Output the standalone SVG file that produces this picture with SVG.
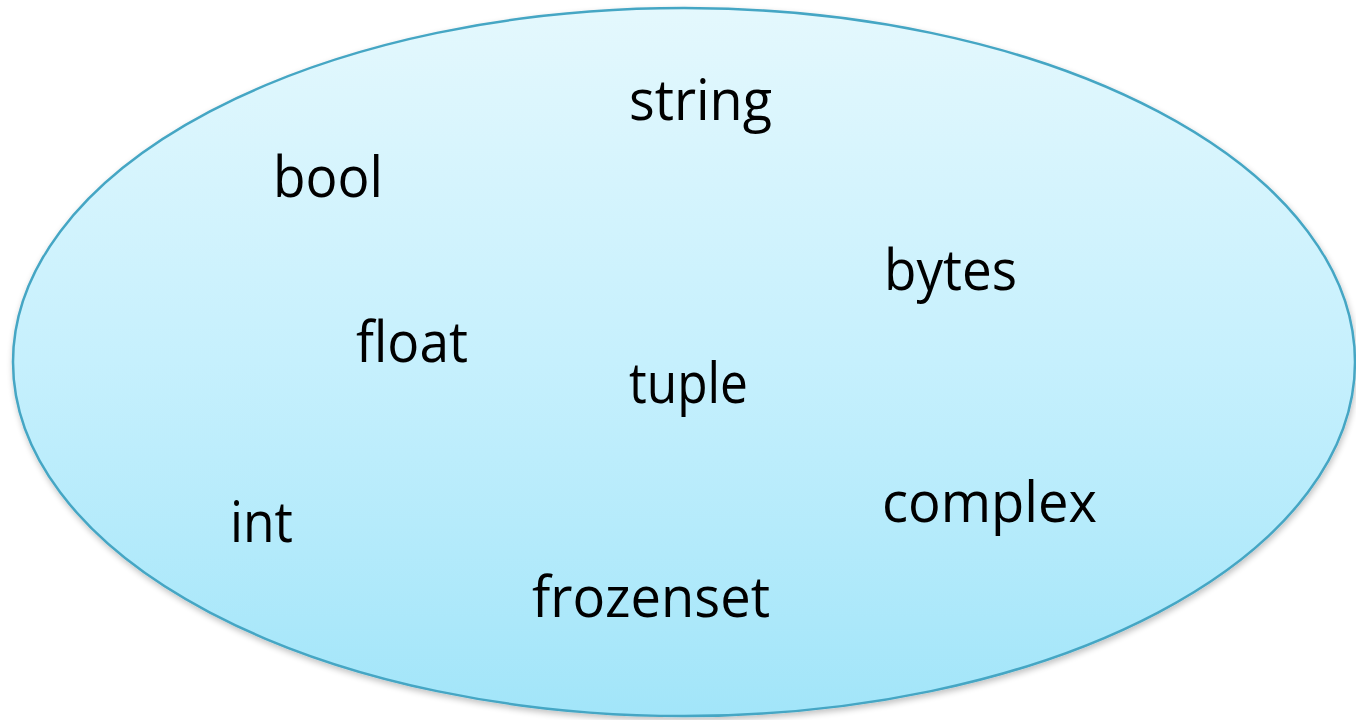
<svg xmlns="http://www.w3.org/2000/svg" width="1356" height="720" viewBox="0 0 1356 720">
  <defs>
    <linearGradient id="setFill" x1="0" y1="0" x2="0" y2="1">
      <stop offset="0" stop-color="#e4f8fd"/>
      <stop offset="0.5" stop-color="#c6f0fd"/>
      <stop offset="1" stop-color="#a2e5f9"/>
    </linearGradient>
    <filter id="softShadow" x="-5%" y="-5%" width="110%" height="112%">
      <feGaussianBlur in="SourceAlpha" stdDeviation="3"/>
      <feOffset dx="1" dy="3" result="b"/>
      <feComponentTransfer><feFuncA type="linear" slope="0.25"/></feComponentTransfer>
      <feMerge><feMergeNode/><feMergeNode in="SourceGraphic"/></feMerge>
    </filter>
  </defs>
  <style>
    .label { font-family: "Open Sans", "Liberation Sans", sans-serif; font-size: 56px; fill: #000000; }
  </style>
  <rect width="1356" height="720" fill="#ffffff"/>

  <!-- the set boundary -->
  <g id="set">
    <ellipse cx="684" cy="362" rx="671" ry="354" fill="url(#setFill)" stroke="#45a6c4" stroke-width="2.5" filter="url(#softShadow)"/>
  </g>

  <!-- members -->
  <g id="string"><text class="label" x="629" y="120" textLength="143" lengthAdjust="spacingAndGlyphs">string</text></g>
  <g id="bool"><text class="label" x="273" y="197" textLength="110" lengthAdjust="spacingAndGlyphs">bool</text></g>
  <g id="bytes"><text class="label" x="884" y="290" textLength="133" lengthAdjust="spacingAndGlyphs">bytes</text></g>
  <g id="float"><text class="label" x="356" y="362" textLength="112" lengthAdjust="spacingAndGlyphs">float</text></g>
  <g id="tuple"><text class="label" x="629" y="403" textLength="119" lengthAdjust="spacingAndGlyphs">tuple</text></g>
  <g id="int"><text class="label" x="230" y="542" textLength="63" lengthAdjust="spacingAndGlyphs">int</text></g>
  <g id="complex"><text class="label" x="882" y="522" textLength="215" lengthAdjust="spacingAndGlyphs">complex</text></g>
  <g id="frozenset"><text class="label" x="532" y="617" textLength="238" lengthAdjust="spacingAndGlyphs">frozenset</text></g>

  <g id="connectors"/>
</svg>
